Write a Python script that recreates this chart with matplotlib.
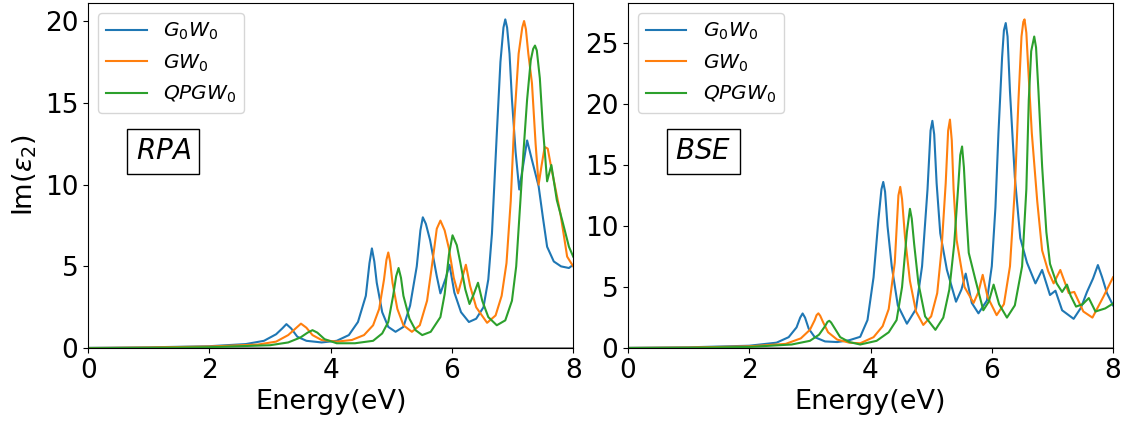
import matplotlib
matplotlib.use("Agg")
import matplotlib.pyplot as plt

# spectra: (energy eV, Im(eps2))
rpa_g0w0 = [(0.0, 0.02), (1.0, 0.05), (2.0, 0.12), (2.6, 0.25), (2.9, 0.45), (3.1, 0.85),
            (3.2, 1.2), (3.27, 1.47), (3.35, 1.2), (3.45, 0.7), (3.6, 0.45), (3.85, 0.35),
            (4.1, 0.45), (4.3, 0.8), (4.45, 1.6), (4.58, 3.2), (4.64, 5.2), (4.68, 6.1),
            (4.72, 5.3), (4.76, 4.0), (4.85, 2.2), (4.95, 1.3), (5.07, 1.0), (5.2, 1.3),
            (5.31, 2.6), (5.42, 5.0), (5.48, 7.2), (5.52, 8.0), (5.57, 7.6), (5.64, 6.6),
            (5.75, 4.4), (5.81, 3.35), (5.9, 4.3), (5.96, 5.1), (6.04, 3.4), (6.15, 2.2),
            (6.28, 1.6), (6.4, 1.8), (6.52, 2.5), (6.6, 4.2), (6.66, 7.0), (6.74, 13.1),
            (6.8, 17.5), (6.85, 19.6), (6.88, 20.1), (6.91, 19.6), (6.95, 18.0), (6.99, 15.2),
            (7.05, 12.0), (7.11, 9.7), (7.18, 11.3), (7.24, 12.7), (7.32, 11.5), (7.43, 9.9),
            (7.5, 8.0), (7.57, 6.2), (7.68, 5.3), (7.8, 5.0), (7.93, 4.9), (8.0, 5.1)]
rpa_gw0 = [(0.0, 0.01), (1.0, 0.04), (2.0, 0.1), (2.8, 0.22), (3.1, 0.4), (3.3, 0.8),
           (3.42, 1.2), (3.51, 1.5), (3.6, 1.25), (3.7, 0.8), (3.85, 0.5), (4.1, 0.4),
           (4.35, 0.5), (4.55, 0.8), (4.7, 1.4), (4.8, 2.4), (4.88, 4.2), (4.92, 5.4),
           (4.95, 5.85), (4.98, 5.3), (5.02, 4.0), (5.1, 2.4), (5.2, 1.4), (5.34, 1.0),
           (5.47, 1.4), (5.59, 2.9), (5.68, 5.3), (5.75, 7.3), (5.81, 7.8), (5.88, 7.2),
           (5.95, 6.1), (6.03, 4.3), (6.1, 3.35), (6.17, 4.3), (6.23, 5.1), (6.3, 3.8),
           (6.4, 2.5), (6.58, 1.55), (6.72, 2.0), (6.82, 3.2), (6.9, 5.2), (6.97, 9.0),
           (7.03, 14.0), (7.1, 18.0), (7.16, 19.6), (7.19, 20.0), (7.22, 19.5), (7.26, 18.0),
           (7.32, 16.2), (7.38, 12.5), (7.43, 10.0), (7.48, 11.2), (7.53, 12.3), (7.58, 12.2),
           (7.64, 11.0), (7.7, 9.9), (7.79, 8.2), (7.85, 6.8), (7.9, 5.6), (8.0, 5.0)]
rpa_qpgw0 = [(0.0, 0.0), (1.0, 0.02), (2.0, 0.06), (3.0, 0.18), (3.3, 0.35), (3.5, 0.65),
             (3.62, 0.95), (3.7, 1.1), (3.78, 0.95), (3.9, 0.55), (4.1, 0.3), (4.4, 0.3),
             (4.7, 0.45), (4.85, 0.9), (4.95, 1.6), (5.03, 3.2), (5.08, 4.4), (5.12, 4.9),
             (5.16, 4.3), (5.2, 3.2), (5.3, 1.8), (5.4, 1.1), (5.51, 0.8), (5.65, 1.0),
             (5.81, 1.9), (5.88, 3.3), (5.95, 5.7), (6.01, 6.9), (6.08, 6.3), (6.14, 5.2),
             (6.22, 3.6), (6.29, 2.7), (6.36, 3.3), (6.43, 4.0), (6.5, 2.9), (6.6, 1.9),
             (6.74, 1.4), (6.88, 1.7), (6.99, 2.9), (7.06, 5.0), (7.13, 9.05), (7.18, 12.0),
             (7.24, 15.2), (7.3, 17.6), (7.34, 18.3), (7.37, 18.5), (7.4, 18.2), (7.45, 16.5),
             (7.5, 13.5), (7.57, 10.2), (7.64, 11.2), (7.73, 9.05), (7.82, 7.8), (7.93, 6.2),
             (8.0, 5.6)]

bse_g0w0 = [(0.0, 0.03), (1.0, 0.07), (2.0, 0.2), (2.45, 0.45), (2.65, 0.9), (2.78, 1.7),
            (2.84, 2.5), (2.88, 2.84), (2.92, 2.5), (2.98, 1.6), (3.08, 0.9), (3.25, 0.55),
            (3.45, 0.5), (3.65, 0.65), (3.83, 0.93), (3.95, 2.3), (4.05, 5.8), (4.13, 10.5),
            (4.18, 13.0), (4.21, 13.6), (4.24, 12.8), (4.28, 10.0), (4.35, 6.7), (4.45, 3.5),
            (4.6, 2.0), (4.75, 3.2), (4.85, 6.7), (4.94, 13.0), (4.99, 17.8), (5.02, 18.6),
            (5.05, 17.5), (5.09, 13.5), (5.15, 9.4), (5.26, 6.4), (5.41, 3.8), (5.5, 4.8),
            (5.57, 6.1), (5.67, 3.7), (5.78, 2.85), (5.92, 3.9), (6.0, 6.7), (6.06, 11.5),
            (6.11, 17.6), (6.17, 23.8), (6.2, 26.0), (6.23, 26.6), (6.26, 25.5), (6.3, 21.0),
            (6.38, 14.0), (6.47, 9.0), (6.58, 7.0), (6.72, 5.3), (6.83, 6.4), (6.96, 4.35),
            (7.05, 4.7), (7.16, 3.1), (7.35, 2.4), (7.47, 3.3), (7.57, 4.6), (7.67, 5.7),
            (7.75, 6.8), (7.82, 5.8), (7.9, 4.5), (8.0, 3.5)]
bse_gw0 = [(0.0, 0.02), (1.0, 0.05), (2.0, 0.15), (2.6, 0.35), (2.85, 0.8), (3.0, 1.5),
           (3.08, 2.3), (3.11, 2.7), (3.14, 2.85), (3.17, 2.65), (3.22, 2.1), (3.3, 1.3),
           (3.45, 0.7), (3.65, 0.45), (3.83, 0.4), (4.05, 0.9), (4.2, 1.8), (4.3, 3.2),
           (4.4, 7.0), (4.46, 12.5), (4.49, 13.2), (4.52, 12.2), (4.57, 9.0), (4.65, 5.5),
           (4.75, 3.0), (4.87, 1.9), (5.0, 2.6), (5.1, 4.5), (5.17, 8.0), (5.24, 13.5),
           (5.28, 17.8), (5.31, 18.7), (5.34, 17.0), (5.37, 13.0), (5.42, 8.85), (5.55, 5.0),
           (5.7, 3.7), (5.78, 4.6), (5.85, 6.0), (5.93, 4.2), (6.08, 2.7), (6.2, 3.6),
           (6.3, 6.7), (6.38, 13.0), (6.44, 20.3), (6.49, 25.5), (6.52, 26.7), (6.54, 26.9),
           (6.57, 25.8), (6.6, 23.0), (6.66, 17.6), (6.75, 12.0), (6.83, 8.0), (6.93, 6.3),
           (7.02, 5.3), (7.13, 6.4), (7.27, 4.5), (7.36, 4.6), (7.51, 3.0), (7.66, 2.5),
           (7.84, 4.2), (8.0, 5.8)]
bse_qpgw0 = [(0.0, 0.01), (1.0, 0.03), (2.0, 0.1), (2.7, 0.3), (3.0, 0.6), (3.15, 1.1),
             (3.25, 1.8), (3.29, 2.15), (3.32, 2.24), (3.35, 2.1), (3.4, 1.7), (3.5, 0.9),
             (3.65, 0.5), (3.83, 0.3), (4.1, 0.6), (4.3, 1.3), (4.43, 2.3), (4.52, 5.0),
             (4.6, 9.5), (4.65, 11.4), (4.68, 10.6), (4.72, 8.5), (4.79, 5.3), (4.9, 2.6),
             (5.07, 1.5), (5.2, 2.5), (5.3, 4.8), (5.38, 8.5), (5.45, 13.5), (5.48, 15.8),
             (5.51, 16.5), (5.54, 14.8), (5.58, 11.0), (5.62, 7.8), (5.73, 5.6), (5.86, 3.1),
             (5.95, 3.8), (6.03, 5.2), (6.12, 3.6), (6.25, 2.5), (6.38, 3.5), (6.5, 6.7),
             (6.57, 13.0), (6.61, 20.3), (6.65, 24.3), (6.7, 25.5), (6.73, 24.6), (6.77, 21.0),
             (6.83, 14.9), (6.9, 9.5), (6.96, 6.9), (7.07, 5.3), (7.16, 4.6), (7.24, 5.2),
             (7.3, 4.3), (7.39, 3.4), (7.5, 3.6), (7.6, 4.1), (7.71, 3.0), (7.87, 3.25),
             (8.0, 3.65)]

labels = [r"$G_0W_0$", r"$GW_0$", r"$QPGW_0$"]
colors = ["#1f77b4", "#ff7f0e", "#2ca02c"]
panels = [("$RPA$", [rpa_g0w0, rpa_gw0, rpa_qpgw0]),
          ("$BSE$", [bse_g0w0, bse_gw0, bse_qpgw0])]

fig, axes = plt.subplots(1, 2, figsize=(11.3, 4.21), dpi=100)
fig.subplots_adjust(left=0.078, right=0.985, bottom=0.173, top=0.993, wspace=0.113)

for ax, (name, curves) in zip(axes, panels):
    for data, lab, col in zip(curves, labels, colors):
        e, v = zip(*data)
        ax.plot(e, v, color=col, lw=1.5, label=lab)
    ax.axhline(0, color="gray", lw=2, zorder=0)
    ax.set_xlim(0, 8)
    ax.set_ylim(bottom=0)
    ax.set_xticks([0, 2, 4, 6, 8])
    ax.tick_params(labelsize=19)
    ax.set_xlabel("Energy(eV)", fontsize=19.5)
    ax.legend(loc="upper left", fontsize=14.5)
    ax.text(0.155, 0.57, name, transform=ax.transAxes, fontsize=20,
            ha="center", va="center",
            bbox=dict(boxstyle="square,pad=0.3", facecolor="white", edgecolor="black"))

axes[0].set_ylabel(r"Im($\epsilon_2$)", fontsize=19.5)

fig.savefig("out.png", dpi=100)
